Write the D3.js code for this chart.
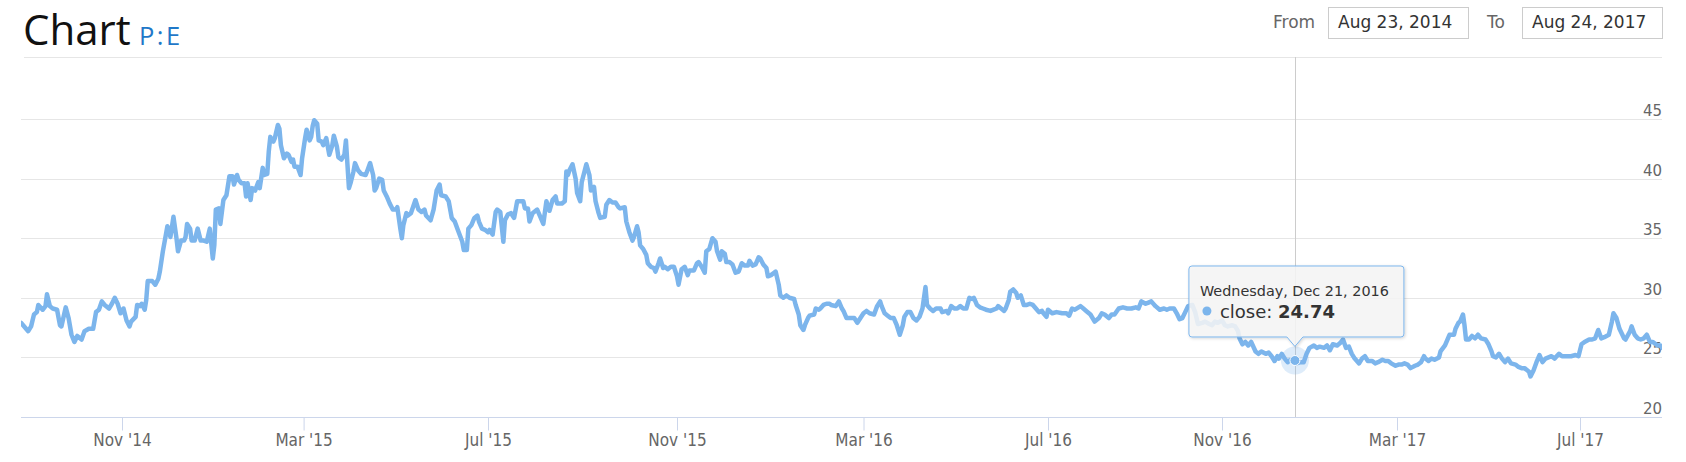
<!DOCTYPE html>
<html><head><meta charset="utf-8">
<script src="https://cdn.jsdelivr.net/npm/d3@7"></script>
<style>
body{margin:0;background:#fff;}
svg{display:block;}
</style></head><body>
<svg id="chart" width="1686" height="462"></svg>
<script>
// ---------- DATA ----------
const dates = [
"2014-08-23","2014-08-28","2014-08-30","2014-09-01","2014-09-03","2014-09-04","2014-09-07","2014-09-09","2014-09-10","2014-09-12",
"2014-09-14","2014-09-17","2014-09-19","2014-09-20","2014-09-23","2014-09-25","2014-09-27","2014-09-29","2014-10-01","2014-10-04",
"2014-10-06","2014-10-09","2014-10-12","2014-10-14","2014-10-16","2014-10-18","2014-10-20","2014-10-23","2014-10-25","2014-10-27",
"2014-10-29","2014-10-31","2014-11-02","2014-11-04","2014-11-06","2014-11-07","2014-11-10","2014-11-11","2014-11-13","2014-11-14",
"2014-11-16","2014-11-17","2014-11-18","2014-11-21","2014-11-23","2014-11-25","2014-11-26","2014-11-28","2014-11-30","2014-12-01",
"2014-12-02","2014-12-03","2014-12-05","2014-12-07","2014-12-08","2014-12-10","2014-12-12","2014-12-13","2014-12-14","2014-12-16",
"2014-12-17","2014-12-19","2014-12-21","2014-12-23","2014-12-25","2014-12-27","2014-12-29","2014-12-31","2015-01-01","2015-01-02",
"2015-01-04","2015-01-05","2015-01-06","2015-01-07","2015-01-09","2015-01-11","2015-01-13","2015-01-14","2015-01-16","2015-01-17",
"2015-01-19","2015-01-21","2015-01-22","2015-01-23","2015-01-25","2015-01-26","2015-01-28","2015-01-30","2015-01-31","2015-02-02",
"2015-02-03","2015-02-05","2015-02-06","2015-02-07","2015-02-09","2015-02-10","2015-02-12","2015-02-13","2015-02-14","2015-02-16",
"2015-02-18","2015-02-19","2015-02-21","2015-02-22","2015-02-23","2015-02-25","2015-02-27","2015-02-28","2015-03-02","2015-03-03",
"2015-03-05","2015-03-06","2015-03-07","2015-03-08","2015-03-10","2015-03-11","2015-03-13","2015-03-14","2015-03-16","2015-03-18",
"2015-03-20","2015-03-21","2015-03-23","2015-03-24","2015-03-26","2015-03-28","2015-03-29","2015-03-31","2015-04-01","2015-04-03",
"2015-04-04","2015-04-06","2015-04-08","2015-04-11","2015-04-12","2015-04-14","2015-04-16","2015-04-17","2015-04-18","2015-04-20",
"2015-04-22","2015-04-23","2015-04-25","2015-04-27","2015-04-29","2015-05-01","2015-05-02","2015-05-04","2015-05-05","2015-05-06",
"2015-05-08","2015-05-09","2015-05-11","2015-05-14","2015-05-16","2015-05-18","2015-05-20","2015-05-21","2015-05-24","2015-05-26",
"2015-05-28","2015-05-30","2015-05-31","2015-06-03","2015-06-05","2015-06-07","2015-06-09","2015-06-11","2015-06-14","2015-06-15",
"2015-06-17","2015-06-18","2015-06-20","2015-06-22","2015-06-24","2015-06-25","2015-06-27","2015-06-29","2015-07-01","2015-07-02",
"2015-07-04","2015-07-06","2015-07-07","2015-07-09","2015-07-11","2015-07-12","2015-07-14","2015-07-16","2015-07-18","2015-07-20",
"2015-07-22","2015-07-24","2015-07-25","2015-07-27","2015-07-28","2015-07-30","2015-08-02","2015-08-04","2015-08-06","2015-08-08",
"2015-08-10","2015-08-12","2015-08-14","2015-08-15","2015-08-18","2015-08-20","2015-08-21","2015-08-22","2015-08-23","2015-08-25",
"2015-08-27","2015-08-28","2015-08-30","2015-08-31","2015-09-02","2015-09-03","2015-09-05","2015-09-06","2015-09-08","2015-09-09",
"2015-09-11","2015-09-12","2015-09-15","2015-09-16","2015-09-18","2015-09-20","2015-09-22","2015-09-24","2015-09-25","2015-09-28",
"2015-09-29","2015-10-01","2015-10-03","2015-10-04","2015-10-06","2015-10-07","2015-10-08","2015-10-10","2015-10-12","2015-10-13",
"2015-10-15","2015-10-17","2015-10-18","2015-10-20","2015-10-21","2015-10-23","2015-10-24","2015-10-26","2015-10-28","2015-10-30",
"2015-11-01","2015-11-02","2015-11-04","2015-11-06","2015-11-08","2015-11-09","2015-11-12","2015-11-14","2015-11-15","2015-11-17",
"2015-11-19","2015-11-20","2015-11-22","2015-11-24","2015-11-26","2015-11-27","2015-11-29","2015-11-30","2015-12-02","2015-12-03",
"2015-12-05","2015-12-07","2015-12-09","2015-12-11","2015-12-13","2015-12-15","2015-12-17","2015-12-18","2015-12-20","2015-12-22",
"2015-12-24","2015-12-25","2015-12-27","2015-12-29","2015-12-30","2016-01-01","2016-01-03","2016-01-04","2016-01-06","2016-01-07",
"2016-01-09","2016-01-11","2016-01-13","2016-01-16","2016-01-17","2016-01-19","2016-01-20","2016-01-22","2016-01-23","2016-01-25",
"2016-01-26","2016-01-29","2016-01-30","2016-02-01","2016-02-02","2016-02-04","2016-02-06","2016-02-08","2016-02-09","2016-02-12",
"2016-02-13","2016-02-14","2016-02-16","2016-02-17","2016-02-19","2016-02-21","2016-02-22","2016-02-24","2016-02-26","2016-02-28",
"2016-03-01","2016-03-03","2016-03-05","2016-03-08","2016-03-10","2016-03-12","2016-03-13","2016-03-15","2016-03-17","2016-03-19",
"2016-03-21","2016-03-23","2016-03-25","2016-03-27","2016-03-28","2016-03-30","2016-04-01","2016-04-03","2016-04-05","2016-04-07",
"2016-04-09","2016-04-11","2016-04-12","2016-04-14","2016-04-16","2016-04-18","2016-04-21","2016-04-22","2016-04-25","2016-04-26",
"2016-04-28","2016-04-30","2016-05-02","2016-05-04","2016-05-06","2016-05-08","2016-05-10","2016-05-12","2016-05-13","2016-05-15",
"2016-05-17","2016-05-19","2016-05-21","2016-05-24","2016-05-26","2016-05-28","2016-05-29","2016-05-31","2016-06-02","2016-06-03",
"2016-06-05","2016-06-06","2016-06-08","2016-06-10","2016-06-11","2016-06-13","2016-06-15","2016-06-17","2016-06-19","2016-06-21",
"2016-06-23","2016-06-25","2016-06-27","2016-06-28","2016-06-30","2016-07-01","2016-07-04","2016-07-07","2016-07-11","2016-07-14",
"2016-07-16","2016-07-18","2016-07-20","2016-07-24","2016-07-26","2016-07-28","2016-07-31","2016-08-03","2016-08-06","2016-08-08",
"2016-08-10","2016-08-13","2016-08-15","2016-08-17","2016-08-20","2016-08-23","2016-08-26","2016-08-29","2016-09-01","2016-09-03",
"2016-09-05","2016-09-08","2016-09-10","2016-09-12","2016-09-15","2016-09-18","2016-09-21","2016-09-23","2016-09-25","2016-09-28",
"2016-09-30","2016-10-02","2016-10-04","2016-10-06","2016-10-08","2016-10-11","2016-10-13","2016-10-15","2016-10-18","2016-10-20",
"2016-10-23","2016-10-25","2016-10-27","2016-10-29","2016-11-01","2016-11-03","2016-11-05","2016-11-08","2016-11-10","2016-11-12",
"2016-11-13","2016-11-15","2016-11-17","2016-11-19","2016-11-21","2016-11-24","2016-11-26","2016-11-28","2016-12-01","2016-12-03",
"2016-12-05","2016-12-07","2016-12-09","2016-12-10","2016-12-12","2016-12-14","2016-12-16","2016-12-18","2016-12-21","2016-12-22",
"2016-12-25","2016-12-27","2016-12-29","2016-12-31","2017-01-03","2017-01-05","2017-01-07","2017-01-10","2017-01-12","2017-01-14",
"2017-01-16","2017-01-19","2017-01-21","2017-01-23","2017-01-25","2017-01-27","2017-01-29","2017-01-31","2017-02-03","2017-02-05",
"2017-02-07","2017-02-09","2017-02-12","2017-02-14","2017-02-16","2017-02-19","2017-02-21","2017-02-23","2017-02-25","2017-02-28",
"2017-03-02","2017-03-04","2017-03-06","2017-03-08","2017-03-10","2017-03-13","2017-03-15","2017-03-17","2017-03-19","2017-03-20",
"2017-03-22","2017-03-24","2017-03-26","2017-03-29","2017-03-30","2017-04-02","2017-04-04","2017-04-05","2017-04-08","2017-04-09",
"2017-04-11","2017-04-12","2017-04-14","2017-04-15","2017-04-16","2017-04-18","2017-04-20","2017-04-22","2017-04-24","2017-04-26",
"2017-04-29","2017-05-01","2017-05-03","2017-05-04","2017-05-06","2017-05-08","2017-05-10","2017-05-12","2017-05-14","2017-05-16",
"2017-05-19","2017-05-21","2017-05-23","2017-05-25","2017-05-28","2017-05-29","2017-05-31","2017-06-02","2017-06-04","2017-06-06",
"2017-06-08","2017-06-10","2017-06-12","2017-06-14","2017-06-17","2017-06-19","2017-06-23","2017-06-25","2017-06-28","2017-06-30",
"2017-07-02","2017-07-04","2017-07-07","2017-07-09","2017-07-11","2017-07-13","2017-07-15","2017-07-17","2017-07-20","2017-07-22",
"2017-07-23","2017-07-25","2017-07-27","2017-07-30","2017-07-31","2017-08-03","2017-08-04","2017-08-06","2017-08-08","2017-08-10",
"2017-08-12","2017-08-14","2017-08-16","2017-08-18","2017-08-21","2017-08-23","2017-08-24"
];
const closeValues = [
27.9,27.2,27.6,28.6,28.8,29.4,29.0,29.3,30.3,29.3,
29.1,29.0,27.7,27.6,29.2,28.3,26.9,26.3,26.8,26.5,
27.2,27.4,27.4,28.8,29.0,29.7,29.4,29.1,29.5,30.0,
29.5,28.7,29.1,28.1,27.6,28.0,28.4,29.4,29.3,29.5,
29.0,29.8,31.4,31.4,31.1,31.6,32.2,33.9,35.3,36.0,
35.6,35.1,36.8,35.0,33.9,34.8,34.8,35.1,36.2,35.8,
34.8,34.8,35.8,34.8,34.8,34.7,35.8,33.3,34.4,37.4,
37.5,36.2,37.2,38.2,38.6,40.2,40.2,39.5,40.3,39.9,
39.6,39.6,38.5,39.6,38.2,39.2,39.0,39.7,39.2,40.9,
40.3,40.4,42.3,43.5,43.1,43.4,44.5,44.2,42.8,41.7,
42.1,42.0,41.4,41.6,41.0,41.0,40.3,41.7,43.4,44.1,
43.2,43.5,44.4,44.9,44.6,43.2,43.1,42.8,43.4,42.0,
42.8,43.6,42.7,41.8,41.6,42.0,43.2,39.2,39.6,40.6,
41.3,40.7,40.4,40.3,40.6,41.3,40.3,39.0,39.2,40.0,
39.9,39.0,38.5,37.9,37.4,37.4,37.6,35.8,35.0,36.1,
37.1,36.9,37.1,38.2,37.4,37.2,37.4,36.9,36.5,37.4,
39.0,39.5,38.6,38.5,38.1,36.7,36.4,35.7,34.7,34.0,
34.0,35.8,36.1,36.7,36.9,36.4,35.8,35.7,35.5,35.7,
35.3,37.2,37.4,37.2,34.7,36.5,37.0,37.1,36.7,38.1,
38.1,38.1,37.5,37.5,36.4,37.1,37.4,36.8,36.2,38.1,
37.3,38.2,38.5,37.9,37.9,38.1,40.6,40.3,40.7,41.2,
40.0,38.8,38.1,39.7,40.7,41.2,40.3,39.0,39.3,38.1,
37.1,36.7,36.8,37.8,38.2,38.0,38.0,37.6,37.5,37.6,
36.4,35.5,34.8,35.1,36.0,35.5,34.4,34.1,33.6,32.9,
32.6,32.5,32.2,32.9,33.3,32.5,32.6,32.4,32.6,32.6,
31.8,31.1,32.4,32.6,31.9,32.3,32.3,32.9,33.0,32.6,
32.1,33.9,34.1,35.0,34.7,33.9,33.2,33.9,33.7,33.0,
33.0,32.8,32.1,32.2,32.9,32.7,32.7,33.1,32.7,32.8,
33.4,33.3,32.8,32.5,31.8,31.9,32.1,32.2,31.1,30.2,
30.0,30.2,30.0,29.9,29.4,28.6,27.7,27.3,27.7,28.3,
28.5,28.6,29.1,29.0,29.1,29.4,29.5,29.5,29.4,29.3,
29.5,29.7,29.1,28.9,28.3,28.3,28.3,28.3,27.9,28.3,
28.7,28.9,28.7,28.6,29.3,29.7,29.3,28.7,28.5,28.3,
28.3,27.7,26.9,27.7,28.4,28.8,28.8,28.3,28.1,28.4,
29.1,30.9,29.4,29.1,28.9,29.1,29.1,28.8,28.9,28.7,
29.3,29.1,29.1,29.3,29.1,29.1,30.0,29.9,30.0,29.4,
29.2,29.1,29.0,28.9,29.0,29.1,29.3,29.1,28.9,29.1,
29.8,30.5,30.7,30.4,30.0,30.2,29.4,29.4,29.5,29.4,
29.1,28.8,28.9,28.7,28.4,29.0,28.7,28.8,28.7,28.7,
28.5,29.1,29.0,29.3,29.1,28.9,28.6,28.0,28.3,28.7,
28.6,28.3,28.6,28.6,29.1,29.2,29.1,29.1,29.2,29.1,
29.7,29.5,29.6,29.7,29.3,29.0,29.1,29.0,29.1,29.1,
28.7,28.2,28.3,28.8,29.3,29.4,28.8,27.8,27.9,28.0,
27.8,27.7,28.0,27.9,28.1,27.7,27.6,27.7,27.6,27.2,
26.6,26.1,26.3,26.0,26.3,25.5,25.3,25.5,25.3,25.4,
25.1,24.7,25.1,24.9,25.3,24.9,24.6,24.8,24.74,24.5,
24.6,24.6,25.3,25.8,26.0,25.8,25.9,25.8,26.0,25.6,
26.1,26.0,26.2,26.5,25.8,25.9,25.3,24.9,24.5,24.9,
25.1,24.7,24.7,24.5,24.6,24.8,24.7,24.7,24.5,24.3,
24.4,24.4,24.5,24.4,24.1,24.3,24.4,24.6,25.1,24.9,
24.7,24.9,24.8,25.0,25.5,26.0,26.6,26.9,26.9,27.4,
27.9,28.0,28.6,27.7,26.5,26.5,26.8,26.6,26.9,26.6,
26.5,26.1,25.5,25.1,25.0,25.3,24.9,24.6,24.9,24.5,
24.4,24.2,24.1,24.1,23.8,23.4,23.9,24.6,25.2,24.6,
24.9,25.0,25.1,24.9,25.3,25.1,25.1,25.1,25.2,25.1,
26.1,26.3,26.5,26.5,26.6,27.3,26.6,26.7,26.9,28.0,
28.7,28.3,27.4,26.6,26.5,27.2,27.6,26.9,26.6,26.5,
26.6,26.9,26.3,26.3,26.0,26.0,25.8
];
const seriesName = "close";
const tickDates = ["2014-11-01","2015-03-01","2015-07-01","2015-11-01","2016-03-01","2016-07-01","2016-11-01","2017-03-01","2017-07-01"];
const tickLabels = ["Nov '14","Mar '15","Jul '15","Nov '15","Mar '16","Jul '16","Nov '16","Mar '17","Jul '17"];
const yTicks = [20, 25, 30, 35, 40, 45];
const rangeLabels = ["From", "To"];
const rangeDates = ["Aug 23, 2014", "Aug 24, 2017"];
const hoverDate = "2016-12-21";
const hoverHeader = "Wednesday, Dec 21, 2016";
const hoverValue = 24.74;

// ---------- LAYOUT ----------
const plot = {left: 21, right: 1662, top: 57, bottom: 417};
// ordinal-style time axis calibration (trading-day spacing)
const axisCalDates = ["2014-08-23","2014-11-01","2015-03-01","2015-07-01","2015-11-01","2016-03-01","2016-07-01","2016-11-01","2017-03-01","2017-07-01","2017-08-24"];
const axisCalPx = [21, 122, 303.6, 488, 677, 863.5, 1048, 1222, 1397, 1580, 1662];

const parse = d3.utcParse("%Y-%m-%d");
const data = dates.map((d, i) => ({date: parse(d), value: closeValues[i]}));

const x = d3.scaleUtc().domain(axisCalDates.map(parse)).range(axisCalPx);
const y = d3.scaleLinear().domain([20, 50.2]).range([plot.bottom, plot.top]);

const svg = d3.select("#chart");
svg.append("rect").attr("width", 1686).attr("height", 462).attr("fill", "#fff");

// Title
svg.append("text").attr("x", 23).attr("y", 45)
  .attr("font-family", "'Open Sans', sans-serif").attr("font-size", 42)
  .attr("fill", "#111").text("Chart");
svg.append("text").attr("x", 139).attr("y", 45)
  .attr("font-family", "'Open Sans', sans-serif").attr("font-size", 25.5)
  .attr("letter-spacing", 2.5).attr("fill", "#1f78c8").text("P:E");

// Range selector
const rs = svg.append("g").attr("font-family", "'DejaVu Sans', sans-serif").attr("font-size", 17);
rs.append("text").attr("x", 1273).attr("y", 28).attr("fill", "#666").text(rangeLabels[0]);
rs.append("rect").attr("x", 1328.5).attr("y", 7.5).attr("width", 140).attr("height", 31)
  .attr("fill", "#fff").attr("stroke", "#cccccc");
rs.append("text").attr("x", 1338).attr("y", 28).attr("fill", "#333").text(rangeDates[0]);
rs.append("text").attr("x", 1487).attr("y", 28).attr("fill", "#666").text(rangeLabels[1]);
rs.append("rect").attr("x", 1522.5).attr("y", 7.5).attr("width", 140).attr("height", 31)
  .attr("fill", "#fff").attr("stroke", "#cccccc");
rs.append("text").attr("x", 1532).attr("y", 28).attr("fill", "#333").text(rangeDates[1]);

// top border line
svg.append("line").attr("x1", 24).attr("x2", plot.right).attr("y1", plot.top + 0.5).attr("y2", plot.top + 0.5)
  .attr("stroke", "#e6e6e6").attr("stroke-width", 1);

// Gridlines
svg.append("g").selectAll("line").data(yTicks.filter(t => t !== 20)).join("line")
  .attr("x1", plot.left).attr("x2", plot.right)
  .attr("y1", d => Math.round(y(d)) + 0.5).attr("y2", d => Math.round(y(d)) + 0.5)
  .attr("stroke", "#e6e6e6").attr("stroke-width", 1);

// Y labels
svg.append("g").selectAll("text").data(yTicks).join("text")
  .attr("x", plot.right).attr("y", d => Math.round(y(d)) - 3)
  .attr("text-anchor", "end").attr("font-family", "'DejaVu Sans', sans-serif")
  .attr("font-size", 15).attr("fill", "#666").text(d => d);

// X axis
const xAxis = d3.axisBottom(x).tickValues(tickDates.map(parse))
  .tickFormat((d, i) => tickLabels[i]).tickSize(13).tickSizeOuter(0);
const gx = svg.append("g").attr("transform", `translate(0,${plot.bottom + 0.5})`).call(xAxis);
gx.select(".domain").attr("stroke", "#ccd6eb").attr("d", `M${plot.left},0H${plot.right}`);
gx.selectAll(".tick line").attr("stroke", "#ccd6eb");
gx.selectAll(".tick text").attr("y", 28).attr("dy", 0).attr("fill", "#666")
  .attr("font-family", "'DejaVu Sans Condensed', 'Liberation Sans Narrow', 'Roboto Condensed', sans-serif")
  .attr("font-size", 17);

// Crosshair
const hd = parse(hoverDate);
const hx = Math.round(x(hd)) + 0.5, hy = y(hoverValue);
svg.append("line").attr("x1", hx).attr("x2", hx).attr("y1", plot.top).attr("y2", plot.bottom)
  .attr("stroke", "#cccccc").attr("stroke-width", 1);

// Clip + line
svg.append("clipPath").attr("id", "clip").append("rect")
  .attr("x", plot.left).attr("y", plot.top - 5).attr("width", plot.right - plot.left).attr("height", plot.bottom - plot.top + 10);
const line = d3.line().x(d => x(d.date)).y(d => y(d.value));
svg.append("path").datum(data).attr("clip-path", "url(#clip)")
  .attr("d", line).attr("fill", "none").attr("stroke", "#7cb5ec")
  .attr("stroke-width", 4.5).attr("stroke-linejoin", "round").attr("stroke-linecap", "round");

// hover marker
svg.append("circle").attr("cx", x(hd)).attr("cy", hy).attr("r", 14)
  .attr("fill", "#7cb5ec").attr("opacity", 0.25);
svg.append("circle").attr("cx", x(hd)).attr("cy", hy).attr("r", 5)
  .attr("fill", "#7cb5ec").attr("stroke", "#fff").attr("stroke-width", 1);

// Tooltip
const defs = svg.append("defs");
const f = defs.append("filter").attr("id", "shadow").attr("x", "-10%").attr("y", "-10%").attr("width", "130%").attr("height", "140%");
f.append("feDropShadow").attr("dx", 1).attr("dy", 1).attr("stdDeviation", 1.5).attr("flood-color", "#000").attr("flood-opacity", 0.18);

const tw = 215, th = 71;
const ax = x(hd);
const B = hy - 23.5, T = B - th, L = ax - 106, R = L + tw, tip = hy - 14, r = 3;
const tp = `M${L + r},${T}H${R - r}Q${R},${T} ${R},${T + r}V${B - r}Q${R},${B} ${R - r},${B}` +
  `H${ax + 8}L${ax},${tip}L${ax - 8},${B}H${L + r}Q${L},${B} ${L},${B - r}V${T + r}Q${L},${T} ${L + r},${T}Z`;
const tg = svg.append("g");
tg.append("path").attr("d", tp).attr("fill", "rgba(247,247,247,0.85)")
  .attr("stroke", "#7cb5ec").attr("stroke-width", 1).attr("filter", "url(#shadow)");
tg.append("text").attr("x", L + 11).attr("y", T + 30)
  .attr("font-family", "'DejaVu Sans', sans-serif").attr("font-size", 14.4).attr("fill", "#333")
  .text(hoverHeader);
tg.append("circle").attr("cx", L + 18).attr("cy", T + 45).attr("r", 4.5).attr("fill", "#7cb5ec");
const t2 = tg.append("text").attr("x", L + 31).attr("y", T + 52)
  .attr("font-family", "'DejaVu Sans', sans-serif").attr("font-size", 18).attr("fill", "#333");
t2.append("tspan").text(seriesName + ": ");
t2.append("tspan").attr("font-weight", "bold").text(hoverValue.toFixed(2));
</script>
</body></html>
